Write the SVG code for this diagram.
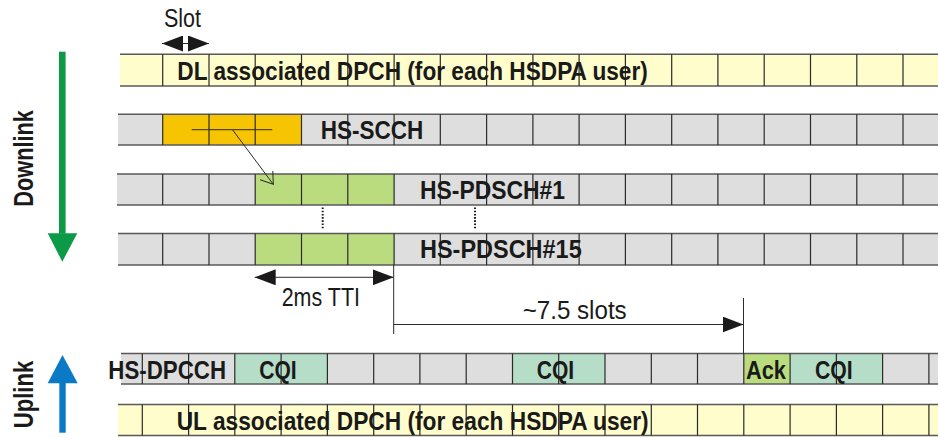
<svg xmlns="http://www.w3.org/2000/svg" width="938" height="438" viewBox="0 0 938 438">
<defs>
<style>
.yel{fill:#FFFDCB}
.gry{fill:#DEDEDE}
.org{fill:#F6C400}
.grn{fill:#BBDC7E}
.cqi{fill:#B5DDC7}
.edge{stroke:#595959;stroke-width:1.5;fill:none}
.div{stroke:#2b2b2b;stroke-width:1.2;fill:none}
.thin{stroke:#2b2b2b;stroke-width:1;fill:none}
.dots{stroke:#1a1a1a;stroke-width:2;stroke-dasharray:1.6,1.6;fill:none}
.lbl{font-family:"Liberation Sans",Arial,sans-serif;font-weight:bold;font-size:25px;fill:#1a1a1a}
.note{font-family:"Liberation Sans",Arial,sans-serif;font-size:25px;fill:#1a1a1a}
.side{font-family:"Liberation Sans",Arial,sans-serif;font-weight:bold;font-size:28px;fill:#1a1a1a}
</style>
<marker id="head" viewBox="0 0 21 16" refX="21" refY="8" markerWidth="21" markerHeight="16" markerUnits="userSpaceOnUse" orient="auto-start-reverse">
<path d="M0,0 L21,8 L0,16 Z" fill="#1a1a1a"/>
</marker>
<marker id="open" viewBox="0 0 12 16" refX="11.5" refY="7.9" markerWidth="12" markerHeight="16" markerUnits="userSpaceOnUse" orient="auto">
<path d="M0,0 L11.5,7.9 L0,15.8" fill="none" stroke="#2b2b2b" stroke-width="1"/>
</marker>
</defs>

<g id="direction-arrows">
<g id="downlink">
<rect x="59" y="51.7" width="6.6" height="182" fill="#0C9A47"/>
<polygon points="47.7,233.3 77.3,233.3 62.3,261.7" fill="#0C9A47"/>
<text class="side" transform="translate(33.3,158.4) rotate(-90)" text-anchor="middle" textLength="96.7" lengthAdjust="spacingAndGlyphs">Downlink</text>
</g>
<g id="uplink">
<rect x="59.3" y="383" width="6.4" height="49.7" fill="#0A7AC6"/>
<polygon points="47.7,383.3 77.7,383.3 62.5,355" fill="#0A7AC6"/>
<text class="side" transform="translate(33,394.5) rotate(-90)" text-anchor="middle" textLength="67.6" lengthAdjust="spacingAndGlyphs">Uplink</text>
</g>
</g>

<g id="dl-dpch">
<rect class="yel" x="120" y="54.3" width="818" height="31.7"/>
<path class="edge" d="M120,54.3H938M120,86H938"/>
<path class="div" d="M162.7,54.3V86M209,54.3V86M255.2,54.3V86M301.5,54.3V86M347.8,54.3V86M394.1,54.3V86M440.3,54.3V86M486.6,54.3V86M532.9,54.3V86M579.1,54.3V86M625.4,54.3V86M671.7,54.3V86M717.9,54.3V86M764.2,54.3V86M810.5,54.3V86M856.8,54.3V86M903,54.3V86"/>
<text class="lbl" x="177.3" y="80" textLength="470.5" lengthAdjust="spacingAndGlyphs">DL associated DPCH (for each HSDPA user)</text>
</g>

<g id="hs-scch">
<rect class="gry" x="118" y="114.3" width="820" height="30.7"/>
<rect class="org" x="162.7" y="114.3" width="138.8" height="30.7"/>
<path class="edge" d="M118,114.3H938M118,145H938"/>
<path class="div" d="M162.7,114.3V145M209,114.3V145M255.2,114.3V145M301.5,114.3V145M347.8,114.3V145M394.1,114.3V145M440.3,114.3V145M486.6,114.3V145M532.9,114.3V145M579.1,114.3V145M625.4,114.3V145M671.7,114.3V145M717.9,114.3V145M764.2,114.3V145M810.5,114.3V145M856.8,114.3V145M903,114.3V145"/>
<line class="thin" x1="191.7" y1="129.7" x2="272.3" y2="129.7"/>
<text class="lbl" x="320.7" y="139.3" textLength="102.6" lengthAdjust="spacingAndGlyphs">HS-SCCH</text>
</g>

<g id="hs-pdsch-1">
<rect class="gry" x="117" y="174" width="821" height="31"/>
<rect class="grn" x="255.2" y="174" width="138.9" height="31"/>
<path class="edge" d="M117,174H938M117,205H938"/>
<path class="div" d="M162.7,174V205M209,174V205M255.2,174V205M301.5,174V205M347.8,174V205M394.1,174V205M440.3,174V205M486.6,174V205M532.9,174V205M579.1,174V205M625.4,174V205M671.7,174V205M717.9,174V205M764.2,174V205M810.5,174V205M856.8,174V205M903,174V205"/>
<text class="lbl" x="420" y="198.7" textLength="145" lengthAdjust="spacingAndGlyphs">HS-PDSCH#1</text>
</g>

<g id="hs-pdsch-15">
<rect class="gry" x="118" y="233.5" width="820" height="31.5"/>
<rect class="grn" x="255.2" y="233.5" width="138.9" height="31.5"/>
<path class="edge" d="M118,233.5H938M118,265H938"/>
<path class="div" d="M162.7,233.5V265M209,233.5V265M255.2,233.5V265M301.5,233.5V265M347.8,233.5V265M394.1,233.5V265M440.3,233.5V265M486.6,233.5V265M532.9,233.5V265M579.1,233.5V265M625.4,233.5V265M671.7,233.5V265M717.9,233.5V265M764.2,233.5V265M810.5,233.5V265M856.8,233.5V265M903,233.5V265"/>
<text class="lbl" x="420" y="258.3" textLength="161.7" lengthAdjust="spacingAndGlyphs">HS-PDSCH#15</text>
</g>

<g id="hs-dpcch">
<rect class="gry" x="121" y="353.5" width="817" height="30.5"/>
<rect class="cqi" x="234.8" y="353.5" width="92.6" height="30.5"/>
<rect class="cqi" x="512.5" y="353.5" width="92.5" height="30.5"/>
<rect class="grn" x="743.8" y="353.5" width="46.3" height="30.5"/>
<rect class="cqi" x="790.1" y="353.5" width="92.5" height="30.5"/>
<path class="edge" d="M121,353.5H938M121,384H938"/>
<path class="div" d="M142.3,353.5V384M188.6,353.5V384M234.8,353.5V384M281.1,353.5V384M327.4,353.5V384M373.7,353.5V384M419.9,353.5V384M466.2,353.5V384M512.5,353.5V384M558.7,353.5V384M605,353.5V384M651.3,353.5V384M697.5,353.5V384M743.8,353.5V384M790.1,353.5V384M836.4,353.5V384M882.6,353.5V384M928.9,353.5V384"/>
<text class="lbl" x="108.3" y="378.5" textLength="117.7" lengthAdjust="spacingAndGlyphs">HS-DPCCH</text>
<text class="lbl" x="259.3" y="378.5" textLength="37.4" lengthAdjust="spacingAndGlyphs">CQI</text>
<text class="lbl" x="536.7" y="378.5" textLength="37.4" lengthAdjust="spacingAndGlyphs">CQI</text>
<text class="lbl" x="746" y="378.5" textLength="40" lengthAdjust="spacingAndGlyphs">Ack</text>
<text class="lbl" x="815" y="378.5" textLength="37.7" lengthAdjust="spacingAndGlyphs">CQI</text>
</g>

<g id="ul-dpch">
<rect class="yel" x="118" y="404.5" width="820" height="31"/>
<path class="edge" d="M118,404.5H938M118,435.5H938"/>
<path class="div" d="M142.3,404.5V435.5M188.6,404.5V435.5M234.8,404.5V435.5M281.1,404.5V435.5M327.4,404.5V435.5M373.7,404.5V435.5M419.9,404.5V435.5M466.2,404.5V435.5M512.5,404.5V435.5M558.7,404.5V435.5M605,404.5V435.5M651.3,404.5V435.5M697.5,404.5V435.5M743.8,404.5V435.5M790.1,404.5V435.5M836.4,404.5V435.5M882.6,404.5V435.5M928.9,404.5V435.5"/>
<text class="lbl" x="176.7" y="430" textLength="472" lengthAdjust="spacingAndGlyphs">UL associated DPCH (for each HSDPA user)</text>
</g>

<g id="connectors">
<text class="note" x="164" y="26.7" textLength="37" lengthAdjust="spacingAndGlyphs">Slot</text>
<line class="thin" x1="162" y1="43.5" x2="209" y2="43.5" marker-start="url(#head)" marker-end="url(#head)"/>
<line class="thin" x1="232.7" y1="130" x2="273.3" y2="184.3" marker-end="url(#open)"/>
<line class="dots" x1="322.7" y1="207.5" x2="322.7" y2="228.5"/>
<line class="dots" x1="475" y1="207.5" x2="475" y2="228.5"/>
<line class="thin" x1="254.7" y1="277.3" x2="393.7" y2="277.3" marker-start="url(#head)" marker-end="url(#head)"/>
<text class="note" x="281.7" y="305.7" textLength="78.3" lengthAdjust="spacingAndGlyphs">2ms TTI</text>
<line class="thin" x1="393.7" y1="265" x2="393.7" y2="334"/>
<line class="thin" x1="393.7" y1="324.5" x2="743.5" y2="324.5" marker-end="url(#head)"/>
<text class="note" x="522.7" y="319.3" textLength="104" lengthAdjust="spacingAndGlyphs">~7.5 slots</text>
<line class="thin" x1="743.5" y1="298" x2="743.5" y2="354"/>
</g>
</svg>
